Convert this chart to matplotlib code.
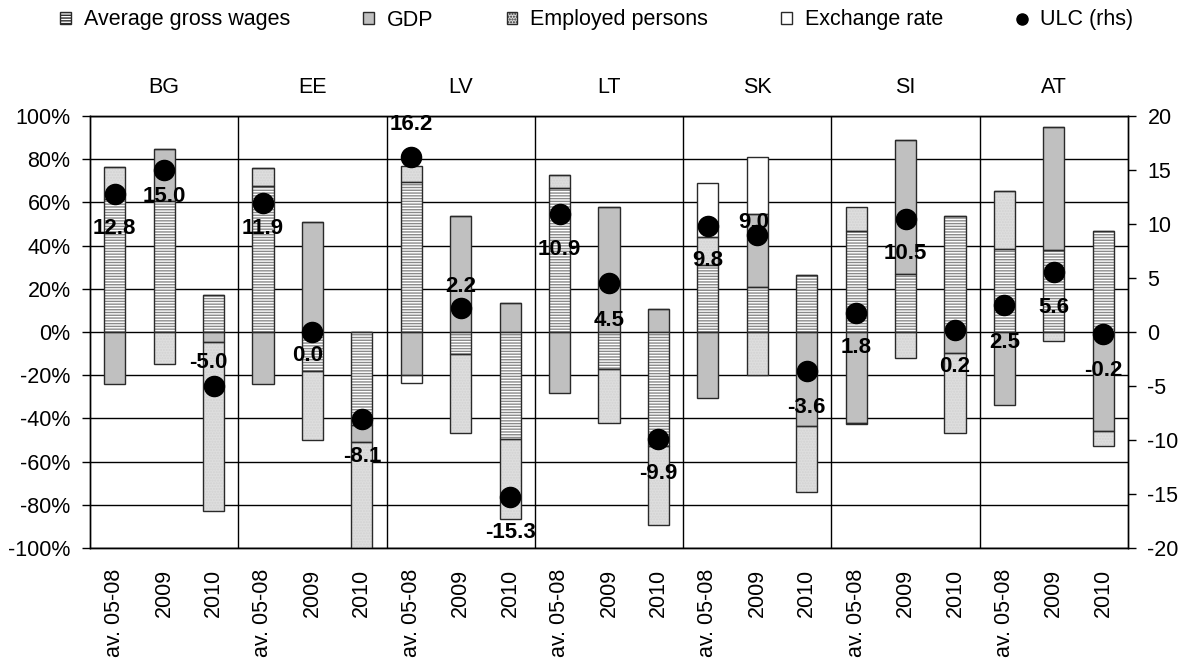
import matplotlib
matplotlib.use('Agg')
import matplotlib.pyplot as plt
from matplotlib.patches import Patch
from matplotlib.lines import Line2D
from matplotlib.ticker import FuncFormatter, MultipleLocator
import numpy as np

plt.rcParams['font.family'] = ['Liberation Sans', 'DejaVu Sans']
plt.rcParams['axes.unicode_minus'] = False
plt.rcParams['hatch.linewidth'] = 1.0

countries = ['BG', 'EE', 'LV', 'LT', 'SK', 'SI', 'AT']
periods = ['av. 05-08', '2009', '2010']

# contributions, % (left axis), order: BG av/2009/2010, EE ..., AT
wages = [61.5, 60.8, 17.2, 67.4, -18.1, -42.9, 69.3, -10.4, -49.4,
         66.7, -17.0, -52.9, 30.9, 20.8, 26.2, 46.9, 26.8, 53.9,
         38.5, 38.0, 46.9]
gdp = [-24.0, 24.0, -4.6, -24.0, 50.8, -8.2, -20.1, 53.9, 13.3,
       -28.2, 57.7, 10.5, -30.5, 33.7, -43.7, -42.1, 61.9, -9.6,
       -33.8, 56.9, -45.8]
employed = [14.7, -15.0, -78.1, 8.3, -31.7, -50.0, 7.7, -36.4, -37.2,
            6.0, -25.1, -36.4, 13.1, -19.7, -30.2, 10.8, -11.9, -37.2,
            26.9, -4.3, -7.2]
exchange = [0, 0, 0, 0, 0, 0, -3.4, 0, 0,
            0, 0, 0, 25.2, 26.3, 0, -0.6, 0, 0,
            0, 0, 0]
# unit labour costs, rhs
ulc = [12.8, 15.0, -5.0, 11.9, 0.0, -8.1, 16.2, 2.2, -15.3,
       10.9, 4.5, -9.9, 9.8, 9.0, -3.6, 1.8, 10.5, 0.2,
       2.5, 5.6, -0.2]

# label placement (pixels, relative to the dot)
label_dy = [-35, -26, 24, -25, -23, -37, 33, 22, -35, -35, -37, -35,
            -34, 12, -37, -35, -35, -37, -37, -36, -36]
label_dx = [0, 0, -5, 0, -5, 0, 0, 0, 0, 0, 0, 0,
            0, -4, 0, 0, 0, 0, 0, 0, 0]

series = [
    ('Average gross wages', wages, 'white', '------', '#8a8a8a'),
    ('GDP', gdp, '#c0c0c0', None, '#c0c0c0'),
    ('Employed persons', employed, '#dedede', '......', '#d2d2d2'),
    ('Exchange rate', exchange, 'white', None, 'white'),
]

fig = plt.figure(figsize=(11.84, 6.67), dpi=100)
ax = fig.add_axes([90/1184, 1-548/667, (1128-90)/1184, (548-116)/667])

x = np.arange(len(ulc))
w = 0.43
pos = np.zeros(len(x))
neg = np.zeros(len(x))
for name, vals, fc, hatch, hc in series:
    v = np.array(vals, dtype=float)
    bottom = np.where(v >= 0, pos, neg)
    ax.bar(x, v, w, bottom=bottom, color=fc, hatch=hatch, edgecolor=hc,
           linewidth=0, zorder=2)
    ax.bar(x, v, w, bottom=bottom, fill=False, edgecolor='#2a2a2a',
           linewidth=1.0, zorder=3)
    pos = pos + np.where(v >= 0, v, 0)
    neg = neg + np.where(v < 0, v, 0)

ax.set_xlim(-0.5, len(x) - 0.5)
ax.set_ylim(-100, 100)
ax.yaxis.set_major_locator(MultipleLocator(20))
ax.yaxis.set_major_formatter(FuncFormatter(lambda v, p: f'{v:.0f}%'))
ax.grid(axis='y', color='black', linewidth=1)
ax.set_axisbelow(True)
for k in range(1, len(countries)):
    ax.axvline(3*k - 0.5, color='black', linewidth=1, zorder=1)

ax.set_xticks(x)
ax.set_xticklabels(periods * len(countries), rotation=90, fontsize=15.5)
ax.tick_params(axis='x', length=0, pad=15)
ax.tick_params(axis='y', labelsize=15.5, length=6, width=1, pad=8, color='black')
for s in ax.spines.values():
    s.set_color('black')
    s.set_linewidth(1)

for i, c in enumerate(countries):
    ax.text(3*i + 1, 1.067, c, transform=ax.get_xaxis_transform(),
            ha='center', va='center', fontsize=15.5)

ax2 = ax.twinx()
ax2.set_ylim(-20, 20)
ax2.yaxis.set_major_locator(MultipleLocator(5))
ax2.yaxis.set_major_formatter(FuncFormatter(lambda v, p: f'{v:.0f}'))
ax2.tick_params(axis='y', labelsize=15.5, length=6, width=1, pad=8)
for s in ax2.spines.values():
    s.set_color('black')
    s.set_linewidth(1)

ax2.plot(x, ulc, 'o', color='black', markersize=14.5, zorder=5)
for xi, v, dx, dy in zip(x, ulc, label_dx, label_dy):
    ax2.annotate(f'{v:.1f}', (xi, v), xytext=(dx*0.72, dy*0.72),
                 textcoords='offset points', ha='center', va='center',
                 fontsize=16, fontweight='bold', zorder=6)

handles = []
for name, vals, fc, hatch, hc in series:
    handles.append(Patch(facecolor=fc, hatch=hatch, edgecolor='#2a2a2a',
                         linewidth=1, label=name))
handles.append(Line2D([], [], marker='o', color='black', linestyle='none',
                      markersize=8, label='ULC (rhs)'))
fig.legend(handles=handles, loc='center left',
           bbox_to_anchor=(60/1184, 1 - 20/667), ncol=5, frameon=False,
           fontsize=15.5, handlelength=0.5, handleheight=0.5,
           handletextpad=0.6, columnspacing=3.4, borderpad=0,
           borderaxespad=0)

fig.savefig('out.png', dpi=100)
